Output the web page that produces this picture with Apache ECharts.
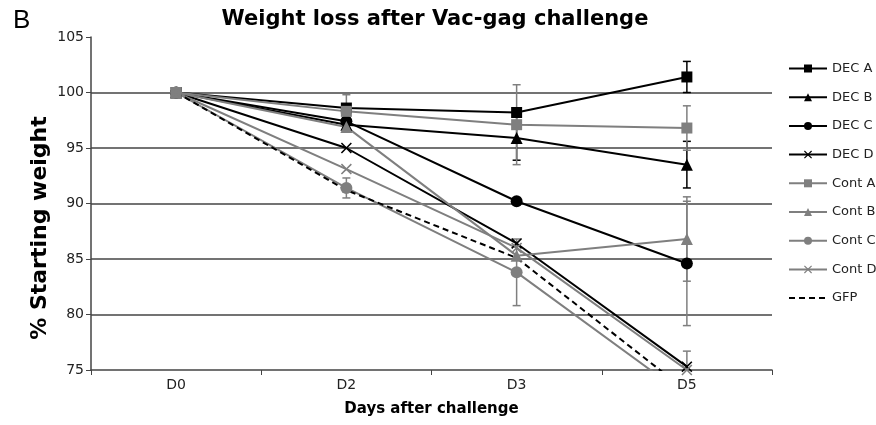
<!DOCTYPE html>
<html>
<head>
<meta charset="utf-8">
<script src="https://cdn.jsdelivr.net/npm/echarts@6/dist/echarts.min.js"></script>
<style>
    html, body { margin: 0; background: #fff; }
    #chart { width: 876px; height: 425px; }
</style>
</head>
<body>
<div id="chart"></div>
<script>
    // data
    const days = ['D0', 'D2', 'D3', 'D5']
    const yTicks = [75, 80, 85, 90, 95, 100, 105]

    const decA = [100, 98.6, 98.2, 101.4]
    const decB = [100, 97.1, 95.9, 93.5]
    const decC = [100, 97.4, 90.2, 84.6]
    const decD = [100, 95.0, 86.4, 75.3]
    const contA = [100, 98.3, 97.1, 96.8]
    const contB = [100, 96.9, 85.3, 86.8]
    const contC = [100, 91.4, 83.8, 72.6]
    const contD = [100, 93.1, 86.0, 75.0]
    const gfp = [100, 91.2, 85.1, 73.1]

    // +/- error bar sizes (0 = not drawn)
    const decAErr = [0, 0, 0, 1.4]
    const decBErr = [0, 0, 2.0, 2.1]
    const decCErr = [0, 0, 0, 5.6]
    const decDErr = [0, 0, 0, 1.4]
    const contAErr = [0, 1.5, 3.6, 2.0]
    const contBErr = [0, 0, 0, 3.8]
    const contCErr = [0, 0.9, 3.0, 0]

    const BLACK = '#000'
    const GRAY = '#7f7f7f'
    const xShape = 'path://M0,1L1,0L5,4L9,0L10,1L6,5L10,9L9,10L5,6L1,10L0,9L4,5Z'

    function lineSeries (name, data, color, symbol, size) {
        return {
            name: name,
            type: 'line',
            data: data,
            symbol: symbol,
            symbolSize: size,
            clip: true,
            z: 3,
            lineStyle: { color: color, width: 2 },
            itemStyle: { color: color }
        }
    }

    function errorSeries (name, vals, errs, color) {
        return {
            name: name + ' err',
            type: 'custom',
            silent: true,
            clip: true,
            z: 2,
            encode: { x: 0, y: 1 },
            data: vals.map((v, i) => [i, v, errs[i]]).filter(d => d[2] > 0),
            renderItem (params, api) {
                const x = api.value(0)
                const y = api.value(1)
                const e = api.value(2)
                const top = api.coord([x, y + e])
                const bot = api.coord([x, y - e])
                const w = 4
                const st = { stroke: color, lineWidth: 1.5 }
                return {
                    type: 'group',
                    children: [
                        { type: 'line', shape: { x1: top[0], y1: top[1], x2: bot[0], y2: bot[1] }, style: st },
                        { type: 'line', shape: { x1: top[0] - w, y1: top[1], x2: top[0] + w, y2: top[1] }, style: st },
                        { type: 'line', shape: { x1: bot[0] - w, y1: bot[1], x2: bot[0] + w, y2: bot[1] }, style: st }
                    ]
                }
            }
        }
    }

    const chart = echarts.init(document.getElementById('chart'))

    chart.setOption({
        animation: false,
        textStyle: { fontFamily: 'DejaVu Sans' },
        title: [
            {
                text: 'Weight loss after Vac-gag challenge',
                left: 430,
                top: 4,
                textAlign: 'center',
                textStyle: { fontFamily: 'DejaVu Sans', fontWeight: 'bold', fontSize: 21, color: '#000' }
            },
            {
                text: 'B',
                left: 8,
                top: 3,
                textStyle: { fontFamily: 'Liberation Sans', fontWeight: 'normal', fontSize: 26, color: '#000' }
            }
        ],
        graphic: [
            {
                type: 'text',
                x: 40,
                y: 228,
                rotation: Math.PI / 2,
                style: {
                    text: '% Starting weight',
                    textAlign: 'center',
                    textVerticalAlign: 'middle',
                    font: 'bold 22px "DejaVu Sans"',
                    fill: '#000'
                }
            }
        ],
        legend: {
            orient: 'vertical',
            left: 783,
            top: 57,
            itemWidth: 38,
            itemHeight: 10,
            itemGap: 15.7,
            textStyle: { fontSize: 13, color: '#222', fontFamily: 'DejaVu Sans' },
            data: [
                'DEC A', 'DEC B', 'DEC C', 'DEC D', 'Cont A', 'Cont B', 'Cont C', 'Cont D',
                { name: 'GFP', itemStyle: { opacity: 0 } }
            ]
        },
        grid: {
            left: 91,
            right: 104,
            top: 37,
            bottom: 55
        },
        xAxis: {
            type: 'category',
            data: days,
            boundaryGap: true,
            name: 'Days after challenge',
            nameLocation: 'middle',
            nameGap: 32,
            nameTextStyle: { fontWeight: 'bold', fontSize: 15, color: '#000' },
            axisLine: { lineStyle: { color: '#444', width: 1.5 } },
            axisTick: { show: true, length: 5, lineStyle: { color: '#444' } },
            axisLabel: { fontSize: 14, color: '#222', margin: 8 },
            splitLine: { show: false }
        },
        yAxis: {
            type: 'value',
            min: yTicks[0],
            max: yTicks[yTicks.length - 1],
            interval: 5,
            axisLine: { show: true, lineStyle: { color: '#444', width: 1.5 } },
            axisTick: { show: true, length: 5, lineStyle: { color: '#444' } },
            axisLabel: { fontSize: 14, color: '#222', margin: 7 },
            splitLine: {
                show: true,
                showMinLine: false,
                showMaxLine: false,
                lineStyle: { color: '#444', width: 1.5 }
            }
        },
        series: [
            errorSeries('DEC A', decA, decAErr, BLACK),
            errorSeries('DEC B', decB, decBErr, BLACK),
            errorSeries('DEC C', decC, decCErr, GRAY),
            errorSeries('DEC D', decD, decDErr, GRAY),
            errorSeries('Cont A', contA, contAErr, GRAY),
            errorSeries('Cont B', contB, contBErr, GRAY),
            errorSeries('Cont C', contC, contCErr, GRAY),
            lineSeries('DEC A', decA, BLACK, 'rect', 11),
            lineSeries('DEC B', decB, BLACK, 'triangle', 12),
            lineSeries('DEC C', decC, BLACK, 'circle', 12),
            lineSeries('DEC D', decD, BLACK, xShape, 11),
            lineSeries('Cont A', contA, GRAY, 'rect', 11),
            lineSeries('Cont B', contB, GRAY, 'triangle', 12),
            lineSeries('Cont C', contC, GRAY, 'circle', 12),
            lineSeries('Cont D', contD, GRAY, xShape, 11),
            {
                name: 'GFP',
                type: 'line',
                data: gfp,
                symbol: 'none',
                clip: true,
                z: 3,
                lineStyle: { color: BLACK, width: 2, type: [6, 4] },
                itemStyle: { color: BLACK }
            }
        ]
    })
</script>
</body>
</html>
